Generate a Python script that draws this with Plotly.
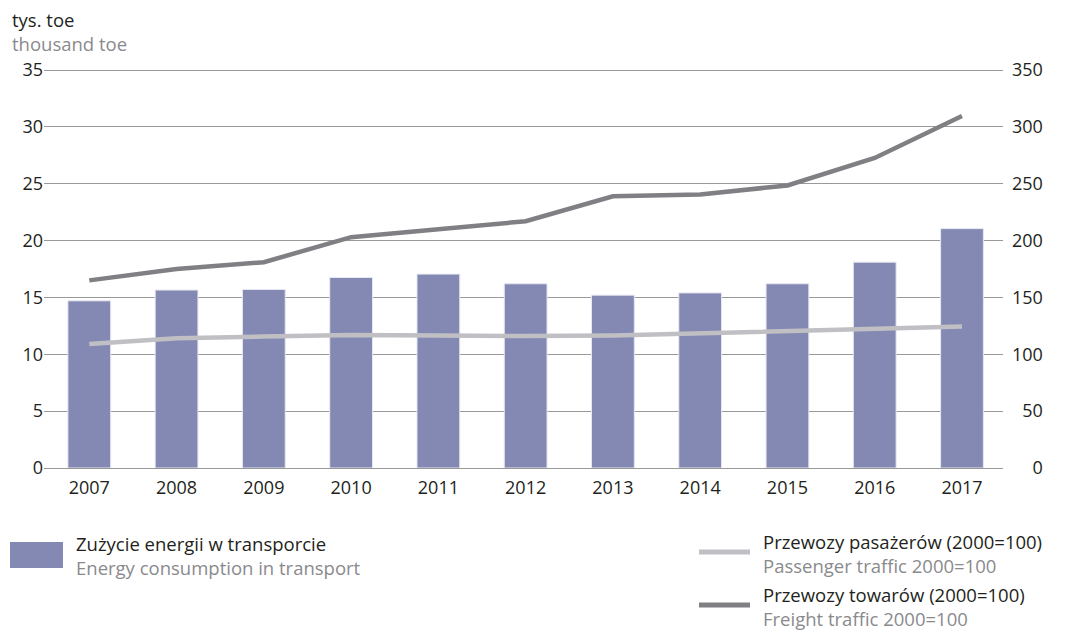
import plotly.graph_objects as go

years = ["2007", "2008", "2009", "2010", "2011", "2012", "2013", "2014", "2015", "2016", "2017"]
energy = [14.7, 15.65, 15.7, 16.75, 17.05, 16.2, 15.2, 15.4, 16.2, 18.1, 21.05]
passenger = [109, 114, 115.6, 117, 116.5, 116, 116.5, 118.7, 120.5, 122.7, 124.4]
freight = [165, 175, 181, 203, 210, 217, 239, 240.5, 248.5, 272.6, 309.5]

left_ticks = [0, 5, 10, 15, 20, 25, 30, 35]
right_ticks = [0, 50, 100, 150, 200, 250, 300, 350]
# right-axis labels are right-aligned in the original: pad with figure spaces
right_labels = [("\u2007" * (3 - len(str(v)))) + str(v) for v in right_ticks]

BAR = "#8389b3"
PASS = "#c0c0c4"
FREIGHT = "#808084"
FONT = "Open Sans"
OFF = 8  # browser body margin

# plot area in page pixels (top is 2px above the 35 gridline so it is not clipped)
px_l, px_r, px_t, px_b = 44, 1003, 68, 468
TOP35 = 70
L_MAX = 35 * (px_b - px_t) / (px_b - TOP35)
W, H = 1068 - OFF, 630 - OFF

fig = go.Figure()
fig.add_trace(go.Bar(x=years, y=energy, marker=dict(color=BAR, line=dict(color="#e6e7f0", width=1)),
                     width=0.49, showlegend=False))
fig.add_trace(go.Scatter(x=years, y=passenger, yaxis="y2", mode="lines",
                         line=dict(color=PASS, width=4.5), showlegend=False))
fig.add_trace(go.Scatter(x=years, y=freight, yaxis="y2", mode="lines",
                         line=dict(color=FREIGHT, width=4.5), showlegend=False))

fig.update_layout(
    width=W, height=H,
    margin=dict(l=px_l - OFF, r=W - (px_r - OFF), t=px_t - OFF, b=H - (px_b - OFF), pad=0),
    plot_bgcolor="white", paper_bgcolor="white",
    font=dict(family=FONT, size=18, color="#231f20"),
    xaxis=dict(range=[-0.519, 10.47], showgrid=False, showline=False, ticks="",
               ticklabelstandoff=7, tickfont=dict(size=18)),
    yaxis=dict(range=[0, L_MAX], tickvals=left_ticks, showgrid=True, gridcolor="#999999",
               gridwidth=1, zeroline=True, zerolinecolor="#999999", zerolinewidth=1,
               showline=False, ticks="",
               ticksuffix="\u00a0\u2009", tickfont=dict(size=18)),
    yaxis2=dict(range=[0, L_MAX * 10], tickvals=right_ticks, ticktext=right_labels,
                overlaying="y", side="right",
                showgrid=False, zeroline=False, showline=False, ticks="",
                ticklabelstandoff=8, tickprefix="\u00a0", tickfont=dict(size=18)),
)

GRAY_TXT = "#8a8a8d"
DARK = "#231f20"

def two(a, b):
    return f"<span style='color:{DARK}'>{a}</span><br><span style='color:{GRAY_TXT}'>{b}</span>"

ann = [
    dict(x=12, y=31.5, text=two("tys. toe", "thousand toe")),
    dict(x=76, y=555, text=two("Zużycie energii w transporcie", "Energy consumption in transport")),
    dict(x=763, y=553.5, text=two("Przewozy pasażerów (2000=100)", "Passenger traffic 2000=100")),
    dict(x=763, y=606.5, text=two("Przewozy towarów (2000=100)", "Freight traffic 2000=100")),
]

def px(x, y):
    return (x - px_l) / (px_r - px_l), (px_b - y) / (px_b - px_t)

for a in ann:
    xx, yy = px(a["x"], a["y"])
    fig.add_annotation(x=xx, y=yy, xref="paper", yref="paper",
                       text=a["text"], showarrow=False, xanchor="left", yanchor="middle",
                       align="left", xshift=-2, font=dict(size=18.5, family=FONT))

x0, y0 = px(10, 542)
x1, y1 = px(63, 568)
fig.add_shape(type="rect", xref="paper", yref="paper", x0=x0, y0=y0, x1=x1, y1=y1,
              fillcolor=BAR, line=dict(width=0))
for yline, col in [(552, PASS), (605, FREIGHT)]:
    a0, b0 = px(699, yline)
    a1, _ = px(750, yline)
    fig.add_shape(type="line", xref="paper", yref="paper", x0=a0, y0=b0, x1=a1, y1=b0,
                  line=dict(color=col, width=5))

fig.write_html("out.html")
